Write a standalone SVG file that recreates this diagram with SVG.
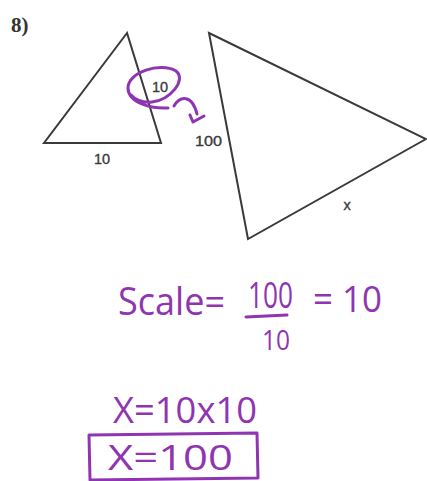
<svg xmlns="http://www.w3.org/2000/svg" width="427" height="481" viewBox="0 0 427 481">
<style>
.tri{fill:none;stroke:#3a3a3a;stroke-width:2;stroke-linejoin:miter}
.lbl{font-family:"Liberation Sans",Arial,sans-serif;font-size:14.5px;fill:#3a3a3a;stroke:#3a3a3a;stroke-width:0.35}
.pen{fill:none;stroke:#9035b2;stroke-width:3;stroke-linecap:round;stroke-linejoin:round}
.hw{font-family:"Open Sans","DejaVu Sans",sans-serif;fill:#9035b2}
</style>
<rect width="427" height="481" fill="#fff"/>
<g id="problem-number">
<text x="11" y="32" font-family="'Liberation Serif',serif" font-size="21" font-weight="bold" fill="#333">8)</text>
</g>
<g id="small-triangle">
<polygon class="tri" points="127,33 44,143 161,143"/>
<text class="lbl" x="102" y="164" text-anchor="middle">10</text>
<text class="lbl" x="160" y="92" text-anchor="middle">10</text>
</g>
<g id="large-triangle">
<polygon class="tri" points="209,33 426,139 248,239"/>
<text class="lbl" x="208.5" y="146" text-anchor="middle" textLength="27" lengthAdjust="spacingAndGlyphs">100</text>
<text class="lbl" x="347" y="210" text-anchor="middle">x</text>
</g>
<g id="annotation">
<path class="pen" d="M168 108 C150 109,128 102,128 88 C128 72,160 62,176 71 C187 80,170 100,152 102 C142 103,134 99,131 95"/>
<path class="pen" d="M174 106 C180 96,192 94,197 114"/>
<path class="pen" d="M190 115 L193 122 L204 116"/>
</g>
<g id="work">
<text class="hw" x="118" y="315" font-size="38" textLength="107" lengthAdjust="spacingAndGlyphs">Scale=</text>
<text class="hw" x="248" y="308" font-size="36" textLength="45" lengthAdjust="spacingAndGlyphs">100</text>
<path class="pen" d="M246 317 L287 315"/>
<text class="hw" x="262" y="350" font-size="28" textLength="28" lengthAdjust="spacingAndGlyphs">10</text>
<text class="hw" x="313" y="312" font-size="36" textLength="69" lengthAdjust="spacingAndGlyphs">= 10</text>
<text class="hw" x="113" y="423" font-size="36" textLength="144" lengthAdjust="spacingAndGlyphs">X=10x10</text>
<path class="pen" d="M89 435 L257 433 L258 478 L90 480 Z"/>
<text class="hw" x="108" y="470" font-size="34" textLength="125" lengthAdjust="spacingAndGlyphs">X=100</text>
</g>
</svg>
